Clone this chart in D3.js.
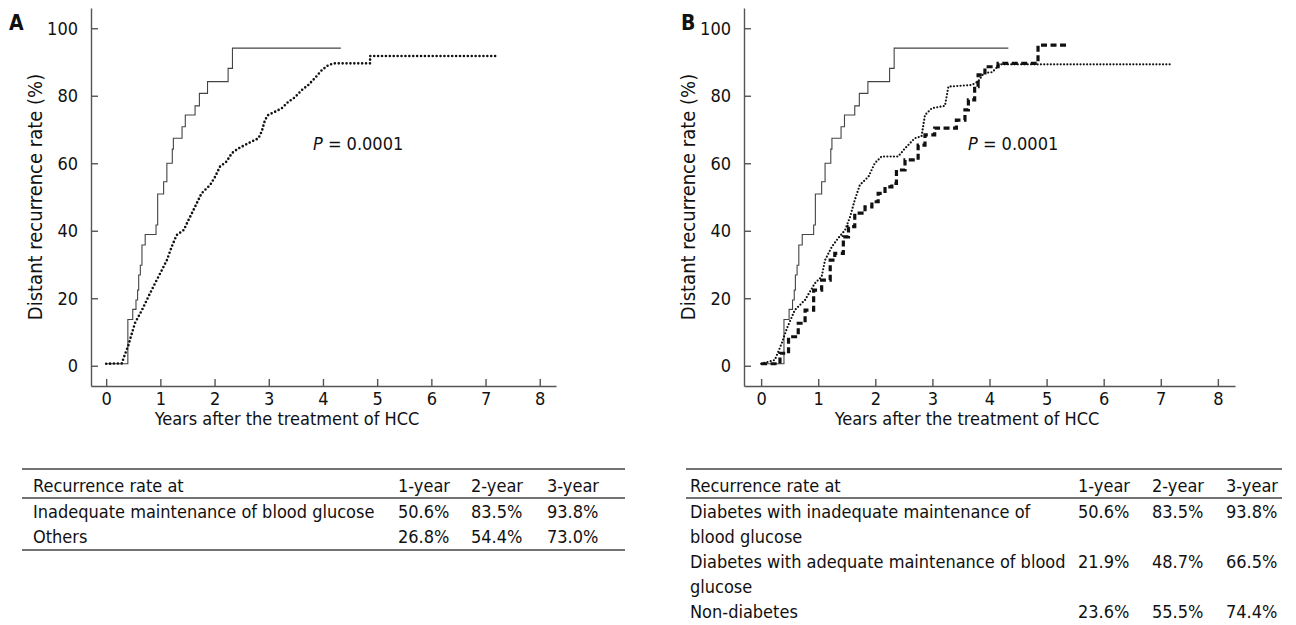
<!DOCTYPE html>
<html>
<head>
<meta charset="utf-8">
<script src="https://cdn.jsdelivr.net/npm/d3@7"></script>
<style>
  body { margin: 0; background: #fff; }
  svg { display: block; }
  text { font-family: "DejaVu Sans Condensed", "DejaVu Sans", sans-serif; font-stretch: condensed; fill: #111; }
</style>
</head>
<body>
<svg id="chart" width="1296" height="625"></svg>
<script>
// axis ticks
const yTicks = [0, 20, 40, 60, 80, 100];
const xTicks = [0, 1, 2, 3, 4, 5, 6, 7, 8];

// [years, recurrence %]
const inadequate = [
  [0, 0.6], [0.40, 13.7], [0.49, 16.7], [0.55, 19.5], [0.58, 22.4], [0.60, 26.9],
  [0.63, 29.8], [0.66, 35.8], [0.72, 38.9], [0.92, 41.7], [0.95, 50.9], [1.06, 54.5],
  [1.12, 60.0], [1.22, 64.2], [1.24, 67.4], [1.40, 70.8], [1.46, 74.3], [1.64, 77.0],
  [1.72, 80.7], [1.87, 84.2], [2.25, 88.1], [2.33, 94.1], [4.33, 94.1]
];
const othersA = [
  [0, 0.6], [0.29, 0.7], [0.32, 2.2], [0.41, 6.1], [0.53, 12.6], [0.66, 16.5],
  [0.78, 20.5], [0.90, 24.4], [1.03, 28.4], [1.12, 31.3], [1.21, 35.3], [1.30, 38.7],
  [1.43, 40.2], [1.52, 43.2], [1.64, 47.1], [1.76, 51.1], [1.92, 53.6], [2.01, 56.0],
  [2.10, 59.0], [2.22, 60.5], [2.32, 63.0], [2.44, 64.4], [2.62, 65.9], [2.81, 67.4],
  [2.87, 69.4], [2.93, 72.8], [2.99, 74.3], [3.12, 75.3], [3.24, 76.3], [3.36, 78.2],
  [3.48, 79.5], [3.61, 81.7], [3.73, 83.2], [3.85, 85.2], [3.98, 87.6], [4.10, 89.1],
  [4.20, 89.6], [4.87, 89.6], [4.87, 91.8], [7.20, 91.8]
];
const nonDiabetes = [
  [0, 0.6], [0.24, 1.7], [0.36, 6.6], [0.45, 11.0], [0.59, 16.5], [0.77, 19.5],
  [0.94, 24.4], [1.06, 26.4], [1.12, 31.3], [1.24, 35.3], [1.35, 37.8], [1.47, 40.2],
  [1.56, 44.2], [1.64, 49.1], [1.73, 53.6], [1.88, 56.0], [1.99, 60.0], [2.11, 62.0],
  [2.40, 62.0], [2.52, 64.4], [2.69, 67.4], [2.81, 68.0], [2.87, 74.3], [2.99, 76.3],
  [3.22, 77.0], [3.28, 82.7], [3.69, 83.2], [3.80, 84.2], [3.90, 86.7], [4.05, 87.0],
  [4.18, 89.3], [7.16, 89.3]
];
const adequate = [
  [0, 0.6], [0.33, 3.7], [0.48, 8.6], [0.65, 12.6], [0.77, 16.5], [0.92, 22.4],
  [1.06, 25.4], [1.21, 31.3], [1.29, 33.3], [1.44, 38.2], [1.53, 41.2], [1.64, 45.2],
  [1.82, 47.1], [1.94, 48.6], [2.05, 51.1], [2.17, 53.0], [2.29, 54.0], [2.37, 58.0],
  [2.52, 61.0], [2.75, 65.4], [2.87, 68.4], [3.04, 70.4], [3.42, 72.8], [3.57, 75.8],
  [3.63, 78.8], [3.74, 82.7], [3.80, 86.2], [3.92, 88.6], [4.15, 89.6], [4.85, 95.0],
  [5.37, 95.0]
];

// tables
const tableHead = ['1-year', '2-year', '3-year'];
const rowLabelsA = [['Inadequate maintenance of blood glucose'], ['Others']];
const rowValuesA = [['50.6%', '83.5%', '93.8%'], ['26.8%', '54.4%', '73.0%']];
const rowLabelsB = [
  ['Diabetes with inadequate maintenance of', 'blood glucose'],
  ['Diabetes with adequate maintenance of blood', 'glucose'],
  ['Non-diabetes']
];
const rowValuesB = [['50.6%', '83.5%', '93.8%'], ['21.9%', '48.7%', '66.5%'], ['23.6%', '55.5%', '74.4%']];

const svg = d3.select('#chart');
const axisColor = '#555';

const styles = {
  solid:   { stroke: '#444', width: 1.1, dash: null, cap: 'butt' },
  dotted:  { stroke: '#111', width: 2.6, dash: '0,3.9', cap: 'round' },
  dotFine: { stroke: '#111', width: 2.2, dash: '0,3.3', cap: 'round' },
  dashed:  { stroke: '#111', width: 3.2, dash: '6,3.5', cap: 'butt' }
};

function drawPanel(cfg) {
  const x = d3.scaleLinear().domain([cfg.xMin, 8.3]).range([cfg.left, cfg.right]);
  const y = d3.scaleLinear().domain([-6, 106]).range([386, 8]);
  const g = svg.append('g');

  const ya = g.append('g')
    .attr('transform', `translate(${cfg.left},0)`)
    .call(d3.axisLeft(y).tickValues(yTicks).tickSizeInner(-7).tickSizeOuter(0).tickPadding(13));
  const xa = g.append('g')
    .attr('transform', 'translate(0,386)')
    .call(d3.axisBottom(x).tickValues(xTicks).tickSizeInner(-7).tickSizeOuter(0).tickPadding(6));

  [ya, xa].forEach(a => {
    a.attr('font-family', null).attr('font-size', null);
    a.selectAll('path, line').attr('stroke', axisColor).attr('stroke-width', 1.4);
    a.selectAll('text').attr('font-size', 18).attr('fill', '#111');
  });

  // curves
  cfg.series.forEach(s => {
    const st = styles[s.style];
    const line = d3.line()
      .x(d => x(d[0]))
      .y(d => y(d[1]))
      .curve(s.step ? d3.curveStepAfter : d3.curveLinear);
    g.append('path')
      .datum(s.data)
      .attr('d', line)
      .attr('fill', 'none')
      .attr('stroke', st.stroke)
      .attr('stroke-width', st.width)
      .attr('stroke-dasharray', st.dash)
      .attr('stroke-linecap', st.cap);
  });

  // titles
  g.append('text')
    .attr('x', cfg.titleX)
    .attr('y', 425)
    .attr('text-anchor', 'middle')
    .attr('font-size', 18)
    .text('Years after the treatment of HCC');

  g.append('text')
    .attr('transform', `translate(${cfg.left - 49},197) rotate(-90)`)
    .attr('text-anchor', 'middle')
    .attr('font-size', 20)
    .text('Distant recurrence rate (%)');

  g.append('text')
    .attr('x', cfg.letterX)
    .attr('y', 30)
    .attr('font-size', 21)
    .attr('font-weight', 'bold')
    .text(cfg.letter);

  const p = g.append('text')
    .attr('x', cfg.pX)
    .attr('y', 150)
    .attr('font-size', 18);
  p.append('tspan').attr('font-style', 'italic').text('P');
  p.append('tspan').text(' = 0.0001');
}

function drawTable(cfg) {
  const g = svg.append('g');
  const rule = yy => g.append('line')
    .attr('x1', cfg.x0).attr('x2', cfg.x1)
    .attr('y1', yy).attr('y2', yy)
    .attr('stroke', '#444').attr('stroke-width', 1.4);

  rule(469);
  rule(498);

  g.append('text').attr('x', cfg.labelX).attr('y', 492).attr('font-size', 18)
    .text('Recurrence rate at');
  tableHead.forEach((h, i) => {
    g.append('text').attr('x', cfg.cols[i]).attr('y', 492).attr('font-size', 18).text(h);
  });

  let yy = 518;
  cfg.labels.forEach((lab, r) => {
    lab.forEach((ln, k) => {
      g.append('text').attr('x', cfg.labelX).attr('y', yy + k * cfg.lineH).attr('font-size', 18).text(ln);
    });
    cfg.values[r].forEach((v, i) => {
      g.append('text').attr('x', cfg.cols[i]).attr('y', yy).attr('font-size', 18).text(v);
    });
    yy += lab.length * cfg.lineH;
  });
  if (cfg.bottom) rule(cfg.bottom);
}

drawPanel({
  left: 91, right: 556, xMin: -0.28, letter: 'A', letterX: 9, pX: 313, titleX: 287,
  series: [
    { data: inadequate, style: 'solid', step: true },
    { data: othersA, style: 'dotted', step: false }
  ]
});

drawPanel({
  left: 744, right: 1235, xMin: -0.30, letter: 'B', letterX: 681, pX: 968, titleX: 967,
  series: [
    { data: inadequate, style: 'solid', step: true },
    { data: adequate, style: 'dashed', step: true },
    { data: nonDiabetes, style: 'dotFine', step: false }
  ]
});

drawTable({
  x0: 22, x1: 625, labelX: 33, cols: [398, 471, 547], lineH: 24.5,
  labels: rowLabelsA, values: rowValuesA, bottom: 550
});

drawTable({
  x0: 686, x1: 1282, labelX: 690, cols: [1078, 1152, 1226], lineH: 25,
  labels: rowLabelsB, values: rowValuesB, bottom: null
});
</script>
</body>
</html>
